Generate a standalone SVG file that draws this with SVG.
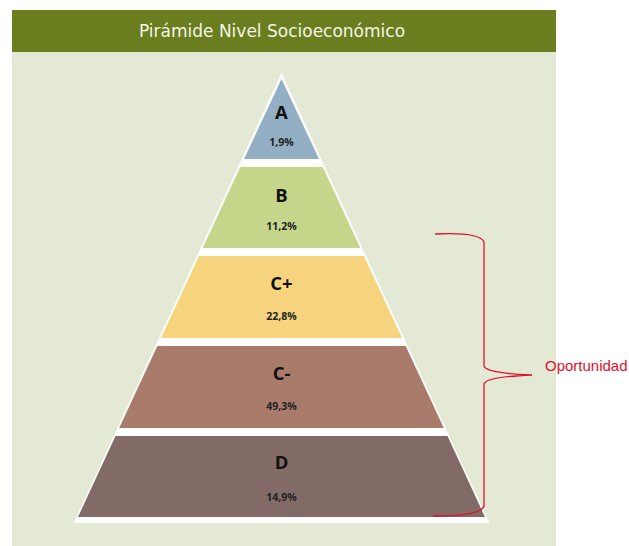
<svg xmlns="http://www.w3.org/2000/svg" width="629" height="546" viewBox="0 0 629 546">
  <style>
    .title { font-family: "DejaVu Sans", "Liberation Sans", sans-serif; font-size: 17px; fill: #f4f6e8; text-anchor: middle; }
    .lvl { font-family: "Open Sans", "Liberation Sans", sans-serif; font-weight: 700; font-size: 18.5px; fill: #111111; text-anchor: middle; }
    .pct { font-family: "Open Sans", "Liberation Sans", sans-serif; font-weight: 700; font-size: 10.5px; fill: #222222; text-anchor: middle; }
    .note { font-family: "Liberation Sans", Arial, sans-serif; font-size: 15px; fill: #e0102a; }
    .brace { fill: none; stroke: #e0102a; stroke-width: 1.3; }
  </style>

  <!-- page background -->
  <rect x="0" y="0" width="629" height="546" fill="#ffffff"/>

  <!-- panel and header bar -->
  <rect x="12" y="52" width="544" height="494" fill="#e4e9d5"/>
  <rect x="12" y="10" width="544" height="42" fill="#6a7e1f"/>
  <text class="title" x="272" y="37">Pirámide Nivel Socioeconómico</text>

  <!-- white pyramid outline -->
  <polygon points="281.5,73 73.5,523 489.5,523" fill="#ffffff"/>

  <!-- levels, top to bottom -->
  <g id="level-a">
    <polygon points="281.5,79 244,159 319,159" fill="#92afc4"/>
    <text class="lvl" x="281.5" y="119">A</text>
    <text class="pct" x="281.5" y="146">1,9%</text>
  </g>
  <g id="level-b">
    <polygon points="240.2,167 322.8,167 360.3,248 202.7,248" fill="#c5d68b"/>
    <text class="lvl" x="281.5" y="202">B</text>
    <text class="pct" x="281.5" y="230">11,2%</text>
  </g>
  <g id="level-cplus">
    <polygon points="199,256 364,256 402,338 161,338" fill="#f6d47e"/>
    <text class="lvl" x="281.5" y="290">C+</text>
    <text class="pct" x="281.5" y="320">22,8%</text>
  </g>
  <g id="level-cminus">
    <polygon points="157.3,346 405.7,346 443.8,428 119.2,428" fill="#a97b6b"/>
    <text class="lvl" x="281.5" y="380">C-</text>
    <text class="pct" x="281.5" y="410">49,3%</text>
  </g>
  <g id="level-d">
    <polygon points="115.5,436 447.5,436 485,517 78,517" fill="#826b67"/>
    <text class="lvl" x="281.5" y="469">D</text>
    <text class="pct" x="281.5" y="501">14,9%</text>
  </g>

  <!-- brace grouping C+, C- and D -->
  <g id="connectors">
    <path class="brace" d="M435,234 Q480,232 484,242 L484,366 Q486,373 532,375 Q486,377 484,384 L484,506 Q482,516 433,516"/>
  </g>
  <g id="label-oportunidad">
    <text class="note" x="545" y="371">Oportunidad</text>
  </g>
</svg>
